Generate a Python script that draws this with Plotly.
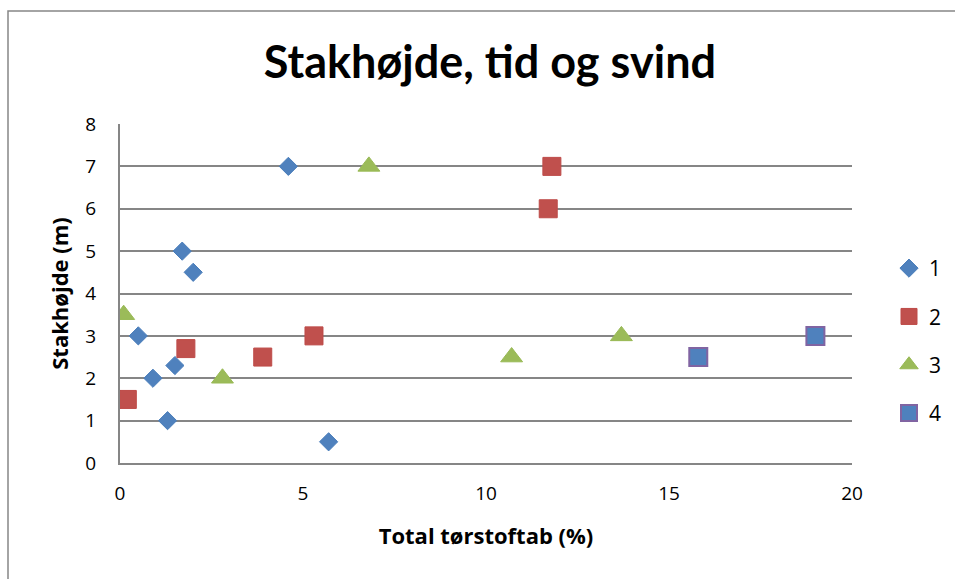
import plotly.graph_objects as go

s1_x = [4.6, 1.7, 2.0, 0.5, 1.5, 0.9, 0.0, 1.3, 5.7]
s1_y = [7, 5, 4.5, 3, 2.3, 2, 1.5, 1, 0.5]
s2_x = [11.8, 11.7, 1.8, 3.9, 5.3, 0.2]
s2_y = [7, 6, 2.7, 2.5, 3, 1.5]
s3_x = [6.8, 0.1, 2.8, 10.7, 13.7]
s3_y = [7, 3.5, 2, 2.5, 3]
s4_x = [15.8, 19.0]
s4_y = [2.5, 3]
x_ticks = [0, 5, 10, 15, 20]
y_ticks = [0, 1, 2, 3, 4, 5, 6, 7, 8]

FONT = "Open Sans"
fig = go.Figure()
fig.add_trace(go.Scatter(x=s1_x, y=s1_y, mode="markers", name="1", legendgroup="1",
                         marker=dict(symbol="diamond", size=14, color="#4F81BD", line=dict(width=1, color="#4A7EBB"))))
fig.add_trace(go.Scatter(x=s2_x, y=s2_y, mode="markers", name="2", legendgroup="2",
                         marker=dict(symbol="square", size=18, color="#C0504D", line=dict(width=1, color="#BE4B48"))))
fig.add_trace(go.Scatter(x=s3_x, y=s3_y, mode="markers", name="3", legendgroup="3",
                         marker=dict(symbol="triangle-up", size=19, color="#9BBB59", line=dict(width=1, color="#98B954"))))
fig.add_trace(go.Scatter(x=s4_x, y=s4_y, mode="markers", name="4", legendgroup="4",
                         marker=dict(symbol="square", size=18, color="#4F81BD", line=dict(width=2, color="#8064A2"))))

L, R, T, B = 120, 103, 124, 116
W, H = 955, 579
pw, ph = W - L - R, H - T - B
def px(x): return (x - L) / pw
def py(y): return (H - B - y) / ph

fig.update_layout(
    width=W, height=H,
    margin=dict(l=L, r=R, t=T, b=B, autoexpand=False),
    paper_bgcolor="white", plot_bgcolor="white",
    font=dict(family=FONT, color="black"),
    title=dict(text="<b>Stakhøjde, tid og svind</b>", x=0.513, xanchor="center",
               y=1 - 62 / H, yanchor="middle", font=dict(size=45, family="Lato")),
    xaxis=dict(range=[0, 20], tickvals=x_ticks, showgrid=False, zeroline=False,
               showline=True, linecolor="#868686", linewidth=2,
               ticks="", tickfont=dict(size=19), ticklabelstandoff=12,
               title=dict(text="<b>Total tørstoftab (%)</b>", font=dict(size=22), standoff=24)),
    yaxis=dict(range=[0, 8], tickvals=y_ticks, showgrid=True, gridcolor="#868686", gridwidth=1.5,
               zeroline=False, showline=True, linecolor="#868686", linewidth=2,
               ticks="", tickfont=dict(size=19), ticklabelstandoff=18,
               title=dict(text="<b>Stakhøjde (m)</b>", font=dict(size=22), standoff=11)),
    legend=dict(x=px(889), y=py(248), xanchor="left", yanchor="top",
                font=dict(size=21), traceorder="grouped", tracegroupgap=18,
                itemwidth=30, bgcolor="rgba(0,0,0,0)"),
    shapes=[dict(type="rect", xref="paper", yref="paper",
                 x0=px(8), x1=px(975), y0=py(600), y1=py(11),
                 line=dict(color="#868686", width=1.5), layer="below")],
)
fig.write_html("out.html", config={"displayModeBar": False},
               post_script="document.body.style.margin='0';document.body.style.overflow='hidden';")
